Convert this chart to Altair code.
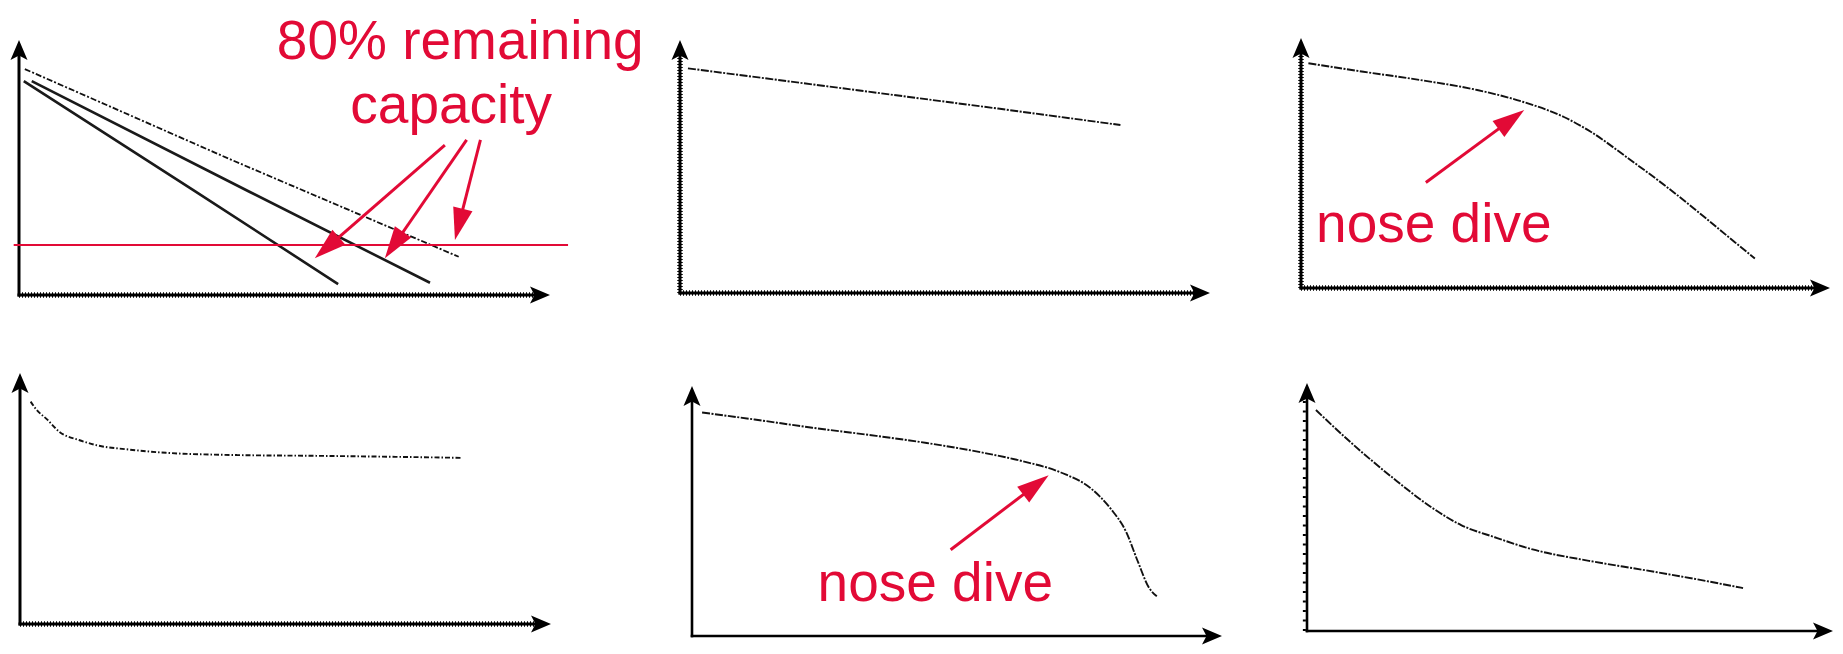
import math
import altair as alt
import pandas as pd

RED = "#E20A36"
INK = "#111111"
FONT = "Liberation Sans"

# ---------------- data (axis units: time 0..100 along x arrow, capacity 0..100 along y arrow)
# Panel 1: linear fade, three cells, 80 % remaining capacity threshold
p1_dash_x = [1.1, 40.0, 82.8]
p1_dash_y = [88.6, 53.0, 15.0]
p1_a_x = [2.4, 43.3, 77.4]
p1_a_y = [83.9, 40.6, 4.8]
p1_b_x = [0.9, 32.9, 60.1]
p1_b_y = [83.9, 41.0, 4.3]
p1_limit_x = [-1.0, 103.4]
p1_limit_y = [19.6, 19.6]
p1_arrow_tail_x = [80.2, 84.3, 86.9]
p1_arrow_tail_y = [58.8, 60.8, 60.8]
p1_arrow_tip_x = [55.7, 68.9, 82.1]
p1_arrow_tip_y = [14.4, 14.4, 21.6]
p1_text = ["80% remaining", "capacity"]
p1_text_x = [83.1, 81.4]
p1_text_y = [92.7, 67.6]

# Panel 2: slow linear fade
p2_x = [1.5, 30.0, 60.0, 83.1]
p2_y = [88.8, 81.1, 72.9, 66.4]

# Panel 3: accelerating fade (nose dive)
p3_x = [1.4, 11.8, 22.5, 33.3, 41.9, 49.7, 54.7, 61.9, 69.1, 76.2, 81.9, 85.8]
p3_y = [89.9, 86.5, 83.2, 79.2, 74.5, 68.4, 62.6, 51.8, 40.5, 28.5, 18.5, 11.8]
p3_arrow_tail = (23.6, 42.2)
p3_arrow_tip = (42.2, 71.2)
p3_text = "nose dive"
p3_text_pos = (25.1, 18.5)

# Panel 4: early drop then flat
p4_x = [2.0, 2.9, 5.2, 7.4, 11.1, 14.9, 20.1, 27.5, 40.9, 55.8, 70.7, 83.0]
p4_y = [88.6, 85.9, 81.3, 76.6, 73.3, 71.0, 69.6, 68.2, 67.3, 67.0, 66.6, 66.2]

# Panel 5: slow fade then late nose dive
p5_x = [1.9, 11.8, 22.7, 33.5, 44.3, 55.2, 62.4, 69.6, 75.4, 79.0, 81.9, 84.1, 86.2, 87.7]
p5_y = [89.4, 86.6, 83.3, 80.4, 77.2, 73.2, 69.9, 65.4, 58.8, 50.9, 41.7, 29.9, 19.4, 15.9]
p5_arrow_tail = (48.8, 34.5)
p5_arrow_tip = (67.3, 64.3)
p5_text = "nose dive"
p5_text_pos = (45.9, 14.2)

# Panel 6: decaying fade
p6_x = [1.7, 8.5, 16.4, 23.5, 29.3, 35.7, 42.9, 53.6, 64.3, 75.0, 82.9]
p6_y = [89.1, 75.7, 61.6, 50.1, 42.7, 37.8, 32.9, 28.3, 24.5, 20.5, 17.3]

# ---------------- layout (page pixels): left, top, width, height, origin x, origin y, x-arrow tip, y-arrow tip
COLS = [8, 617, 1226]
W = 609
ROWS = [(8, 318), (326, 320)]
LAYOUT = {
    1: (COLS[0], ROWS[0][0], W, ROWS[0][1], 19, 295, 550, 40),
    2: (COLS[1], ROWS[0][0], W, ROWS[0][1], 680, 293, 1210, 40),
    3: (COLS[2], ROWS[0][0], W, ROWS[0][1], 1301, 288, 1830, 38),
    4: (COLS[0], ROWS[1][0], W, ROWS[1][1], 20, 624, 551, 373),
    5: (COLS[1], ROWS[1][0], W, ROWS[1][1], 692, 636, 1222, 386),
    6: (COLS[2], ROWS[1][0], W, ROWS[1][1], 1307, 631, 1833, 383),
}

AXIS_HEAD = "M0,0L0.85,2L0,1.55L-0.85,2Z"
RED_HEAD = "M0,0L0.62,2L-0.62,2Z"
RED_HEAD_LEN = 32
SKETCH = (8, 1.5, 2, 1.5)


def make_scales(k):
    left, top, w, h, ox, oy, xt, yt = LAYOUT[k]
    ppx = (xt - ox) / 100.0
    ppy = (oy - yt) / 100.0
    xs = alt.Scale(domain=[(left - ox) / ppx, (left + w - ox) / ppx], nice=False, zero=False)
    ys = alt.Scale(domain=[(oy - top - h) / ppy, (oy - top) / ppy], nice=False, zero=False)
    return xs, ys, ppx, ppy, w, h


def enc(xs, ys, xf="x", yf="y"):
    return dict(x=alt.X(f"{xf}:Q", scale=xs, axis=None), y=alt.Y(f"{yf}:Q", scale=ys, axis=None))


def line_layer(xv, yv, xs, ys, width=1.9, dash=SKETCH, color=INK, interp="monotone"):
    df = pd.DataFrame({"x": xv, "y": yv, "o": list(range(len(xv)))})
    kw = dict(color=color, strokeWidth=width, interpolate=interp, strokeCap="butt")
    if dash:
        kw["strokeDash"] = list(dash)
    return alt.Chart(df).mark_line(**kw).encode(order="o:Q", **enc(xs, ys))


def axes_layers(xs, ys, tex_x, tex_y, width=3.0, yticks=False):
    layers = []
    df = pd.DataFrame({"x": [0, 0], "y": [0, 0], "x2": [97, 0], "y2": [0, 97], "tex": [tex_x, tex_y]})
    layers.append(
        alt.Chart(df).mark_rule(color="black", strokeWidth=width, strokeCap="square").encode(
            x2="x2:Q", y2="y2:Q", **enc(xs, ys))
    )
    tdf = df[df["tex"]]
    if len(tdf):
        layers.append(
            alt.Chart(tdf).mark_rule(color="black", strokeWidth=5.5, strokeDash=[1, 2]).encode(
                x2="x2:Q", y2="y2:Q", **enc(xs, ys))
        )
    if yticks:
        tk = pd.DataFrame({"x": [-0.5], "y": [0], "x2": [-0.5], "y2": [95]})
        layers.append(
            alt.Chart(tk).mark_rule(color="black", strokeWidth=3, strokeDash=[2, 7.5]).encode(
                x2="x2:Q", y2="y2:Q", **enc(xs, ys))
        )
    hd = pd.DataFrame({"x": [100, 0], "y": [0, 100], "ang": [90, 0]})
    layers.append(
        alt.Chart(hd).mark_point(shape=AXIS_HEAD, filled=True, size=400, opacity=1,
                                 color="black", strokeWidth=0).encode(
            angle=alt.Angle("ang:Q", scale=None), **enc(xs, ys))
    )
    return layers


def arrow_layers(tails, tips, xs, ys, ppx, ppy):
    rows = []
    for (tx, ty), (hx, hy) in zip(tails, tips):
        dx = (hx - tx) * ppx
        dy = -(hy - ty) * ppy
        L = math.hypot(dx, dy)
        ux, uy = dx / L, dy / L
        back = 0.6 * RED_HEAD_LEN
        ang = math.degrees(math.atan2(dx, -dy)) % 360
        rows.append({"x": tx, "y": ty, "x2": hx - back * ux / ppx, "y2": hy + back * uy / ppy,
                     "hx": hx, "hy": hy, "ang": ang})
    df = pd.DataFrame(rows)
    shaft = alt.Chart(df).mark_rule(color=RED, strokeWidth=3).encode(x2="x2:Q", y2="y2:Q", **enc(xs, ys))
    head = alt.Chart(df).mark_point(shape=RED_HEAD, filled=True, size=RED_HEAD_LEN ** 2, opacity=1,
                                    color=RED, strokeWidth=0).encode(
        angle=alt.Angle("ang:Q", scale=None), **enc(xs, ys, "hx", "hy"))
    return [shaft, head]


def text_layer(labels, xv, yv, xs, ys, size=55):
    df = pd.DataFrame({"x": xv, "y": yv, "label": labels})
    return alt.Chart(df).mark_text(font=FONT, fontSize=size, color=RED, align="center",
                                   baseline="alphabetic").encode(text="label:N", **enc(xs, ys))


# ---------------- panels
xs, ys, ppx, ppy, w, h = make_scales(1)
panel1 = alt.layer(
    *axes_layers(xs, ys, True, False),
    line_layer(p1_dash_x, p1_dash_y, xs, ys, width=1.8, dash=(6, 2, 2, 2), interp="linear"),
    line_layer(p1_a_x, p1_a_y, xs, ys, width=2.6, dash=None, color="#1a1a1a", interp="linear"),
    line_layer(p1_b_x, p1_b_y, xs, ys, width=2.6, dash=None, color="#1a1a1a", interp="linear"),
    line_layer(p1_limit_x, p1_limit_y, xs, ys, width=2, dash=None, color=RED, interp="linear"),
    *arrow_layers(list(zip(p1_arrow_tail_x, p1_arrow_tail_y)), list(zip(p1_arrow_tip_x, p1_arrow_tip_y)),
                  xs, ys, ppx, ppy),
    text_layer(p1_text, p1_text_x, p1_text_y, xs, ys, size=55),
).properties(width=w, height=h)

xs, ys, ppx, ppy, w, h = make_scales(2)
panel2 = alt.layer(
    *axes_layers(xs, ys, True, True),
    line_layer(p2_x, p2_y, xs, ys, interp="linear"),
).properties(width=w, height=h)

xs, ys, ppx, ppy, w, h = make_scales(3)
panel3 = alt.layer(
    *axes_layers(xs, ys, True, True),
    line_layer(p3_x, p3_y, xs, ys),
    *arrow_layers([p3_arrow_tail], [p3_arrow_tip], xs, ys, ppx, ppy),
    text_layer([p3_text], [p3_text_pos[0]], [p3_text_pos[1]], xs, ys),
).properties(width=w, height=h)

xs, ys, ppx, ppy, w, h = make_scales(4)
panel4 = alt.layer(
    *axes_layers(xs, ys, True, False),
    line_layer(p4_x, p4_y, xs, ys, dash=(5, 2, 1.5, 2)),
).properties(width=w, height=h)

xs, ys, ppx, ppy, w, h = make_scales(5)
panel5 = alt.layer(
    *axes_layers(xs, ys, False, False, width=2.6),
    line_layer(p5_x, p5_y, xs, ys),
    *arrow_layers([p5_arrow_tail], [p5_arrow_tip], xs, ys, ppx, ppy),
    text_layer([p5_text], [p5_text_pos[0]], [p5_text_pos[1]], xs, ys),
).properties(width=w, height=h)

xs, ys, ppx, ppy, w, h = make_scales(6)
panel6 = alt.layer(
    *axes_layers(xs, ys, False, False, width=2.6, yticks=True),
    line_layer(p6_x, p6_y, xs, ys),
).properties(width=w, height=h)

chart = alt.concat(
    panel1, panel2, panel3, panel4, panel5, panel6,
    columns=3,
    spacing=0,
    bounds="flush",
).properties(padding=0).configure_view(stroke=None).configure_concat(spacing=0)

chart.save("out.html", embed_options={"renderer": "svg", "actions": False})
